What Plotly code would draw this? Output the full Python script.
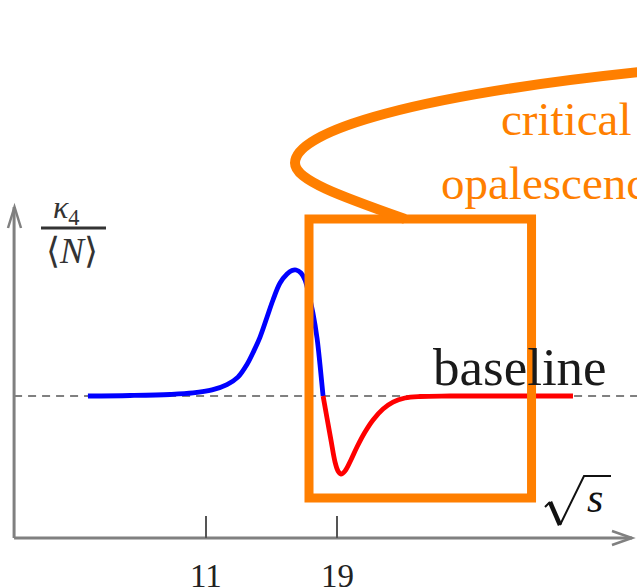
import plotly.graph_objects as go

# Schematic kurtosis ratio kappa_4/<N> versus collision energy sqrt(s)
SQRT_S_RISE = [3.79, 6.36, 8.80, 10.21, 11.37, 12.28, 12.95, 13.50, 13.93, 14.30,
               14.73, 15.09, 15.52, 15.95, 16.25, 16.50, 16.80, 17.05, 17.29, 17.53,
               17.78, 17.96, 18.15]
KAPPA_RISE = [0.0, 0.004, 0.012, 0.024, 0.048, 0.090, 0.150, 0.250, 0.360, 0.468,
              0.627, 0.762, 0.897, 0.968, 0.996, 1.0, 0.976, 0.921, 0.802, 0.659,
              0.46, 0.25, 0.0]

SQRT_S_DIP = [18.15, 18.39, 18.63, 18.88, 19.06, 19.24, 19.49, 19.85, 20.22, 20.71,
              21.20, 21.81, 22.42, 23.15, 24.07, 25.90, 33.41]
KAPPA_DIP = [0.0, -0.175, -0.349, -0.524, -0.595, -0.619, -0.595, -0.508, -0.405, -0.286,
             -0.190, -0.103, -0.048, -0.016, -0.004, 0.0, 0.0]

BASELINE = 0.0
TICK_VALS = [11, 19]
TICK_TEXT = ["11", "19"]

# highlighted region (sqrt(s) span and kappa span)
BOX_X = [17.29, 30.88]
BOX_Y = [-0.810, 1.405]

W, H = 637, 588
X_RANGE = [-1.580, 37.32]
Y_RANGE = [-1.5238, 3.1429]
AXIS_X0, AXIS_X1 = -0.72, 37.02
AXIS_Y0, AXIS_Y1 = -1.127, 1.50

ORANGE = "#ff7f00"
GREY = "#808080"
SERIF = "Liberation Serif, Times New Roman, serif"


def px(x):
    return x / W


def py(y):
    return 1 - y / H


fig = go.Figure()

# dashed baseline
fig.add_trace(go.Scatter(x=[AXIS_X0, X_RANGE[1]], y=[BASELINE, BASELINE], mode="lines",
                         line=dict(color=GREY, width=2, dash="8px,6px"),
                         hoverinfo="skip", showlegend=False))
fig.add_trace(go.Scatter(x=SQRT_S_RISE, y=KAPPA_RISE, mode="lines",
                         line=dict(color="#0000ff", width=4.8, shape="spline", smoothing=1.0),
                         showlegend=False))
fig.add_trace(go.Scatter(x=SQRT_S_DIP, y=KAPPA_DIP, mode="lines",
                         line=dict(color="#ff0000", width=4.8, shape="spline", smoothing=1.0),
                         showlegend=False))

shapes = []
# axes
shapes.append(dict(type="line", xref="x", yref="y", x0=AXIS_X0, x1=AXIS_X1,
                   y0=AXIS_Y0, y1=AXIS_Y0, line=dict(color=GREY, width=3)))
shapes.append(dict(type="line", xref="x", yref="y", x0=AXIS_X0, x1=AXIS_X0,
                   y0=AXIS_Y0, y1=AXIS_Y1, line=dict(color=GREY, width=3)))
# arrow heads
shapes.append(dict(type="path", xref="paper", yref="paper",
                   path=f"M {px(612)},{py(531)} L {px(632)},{py(538)} L {px(612)},{py(545)}",
                   line=dict(color=GREY, width=2.5)))
shapes.append(dict(type="path", xref="paper", yref="paper",
                   path=f"M {px(8)},{py(228)} L {px(14.5)},{py(207)} L {px(21)},{py(228)}",
                   line=dict(color=GREY, width=2.5)))
# ticks
for v in TICK_VALS:
    shapes.append(dict(type="line", xref="x", yref="y", x0=v, x1=v,
                       y0=AXIS_Y0, y1=-0.952, line=dict(color="#555555", width=2)))

# highlight box
shapes.append(dict(type="rect", xref="x", yref="y", x0=BOX_X[0], x1=BOX_X[1],
                   y0=BOX_Y[0], y1=BOX_Y[1], line=dict(color=ORANGE, width=9)))

# speech bubble outline leading into the box
bubble = (f"M {px(405)},{py(219)} "
          f"C {px(340)},{py(196)} {px(295)},{py(180)} {px(295)},{py(163)} "
          f"C {px(295)},{py(130)} {px(420)},{py(95)} {px(640)},{py(72)} "
          f"L {px(700)},{py(67)}")
shapes.append(dict(type="path", xref="paper", yref="paper", path=bubble,
                   line=dict(color=ORANGE, width=10)))

# fraction bar of the y label
shapes.append(dict(type="line", xref="paper", yref="paper", x0=px(41), x1=px(106),
                   y0=py(228), y1=py(228), line=dict(color="#333333", width=2.8)))

# radical sign of sqrt(s): thin lead-in, thick downstroke, thin upstroke and overbar
shapes.append(dict(type="path", xref="paper", yref="paper",
                   path=(f"M {px(545)},{py(507)} L {px(550)},{py(502)} "
                         f"M {px(560)},{py(525)} L {px(584)},{py(476)} L {px(611)},{py(476)}"),
                   line=dict(color="#111111", width=2)))
shapes.append(dict(type="path", xref="paper", yref="paper",
                   path=f"M {px(550)},{py(502)} L {px(560)},{py(525)}",
                   line=dict(color="#111111", width=4.5)))

annotations = []
annotations.append(dict(text="critical", xref="paper", yref="paper", x=px(499), y=py(119),
                        xanchor="left", yanchor="middle", showarrow=False,
                        font=dict(family=SERIF, size=47, color=ORANGE)))
annotations.append(dict(text="opalescence", xref="paper", yref="paper", x=px(439), y=py(183),
                        xanchor="left", yanchor="middle", showarrow=False,
                        font=dict(family=SERIF, size=47, color=ORANGE)))
annotations.append(dict(text="baseline", xref="paper", yref="paper", x=px(431), y=py(367),
                        xanchor="left", yanchor="middle", showarrow=False,
                        font=dict(family=SERIF, size=53, color="#1a1a1a")))
for v, t in zip(TICK_VALS, TICK_TEXT):
    annotations.append(dict(text=t, xref="x", yref="paper", x=v, y=py(576),
                            xanchor="center", yanchor="middle", showarrow=False,
                            font=dict(family=SERIF, size=33, color="#222222")))
annotations.append(dict(text="<i>s</i>", xref="paper", yref="paper", x=px(585), y=py(498),
                        xanchor="left", yanchor="middle", showarrow=False,
                        font=dict(family=SERIF, size=42, color="#111111")))
annotations.append(dict(text="<i>κ</i><sub>4</sub>", xref="paper", yref="paper", x=px(66), y=py(209),
                        xanchor="center", yanchor="middle", showarrow=False,
                        font=dict(family=SERIF, size=32, color="#333333")))
annotations.append(dict(text="⟨<i>N</i>⟩", xref="paper", yref="paper", x=px(72), y=py(251),
                        xanchor="center", yanchor="middle", showarrow=False,
                        font=dict(family=SERIF, size=36, color="#333333")))

fig.update_layout(
    width=W, height=H,
    margin=dict(l=0, r=0, t=0, b=0),
    paper_bgcolor="white", plot_bgcolor="white",
    xaxis=dict(range=X_RANGE, visible=False, fixedrange=True),
    yaxis=dict(range=Y_RANGE, visible=False, fixedrange=True),
    shapes=shapes, annotations=annotations,
    showlegend=False,
)

fig.write_html("out.html")
